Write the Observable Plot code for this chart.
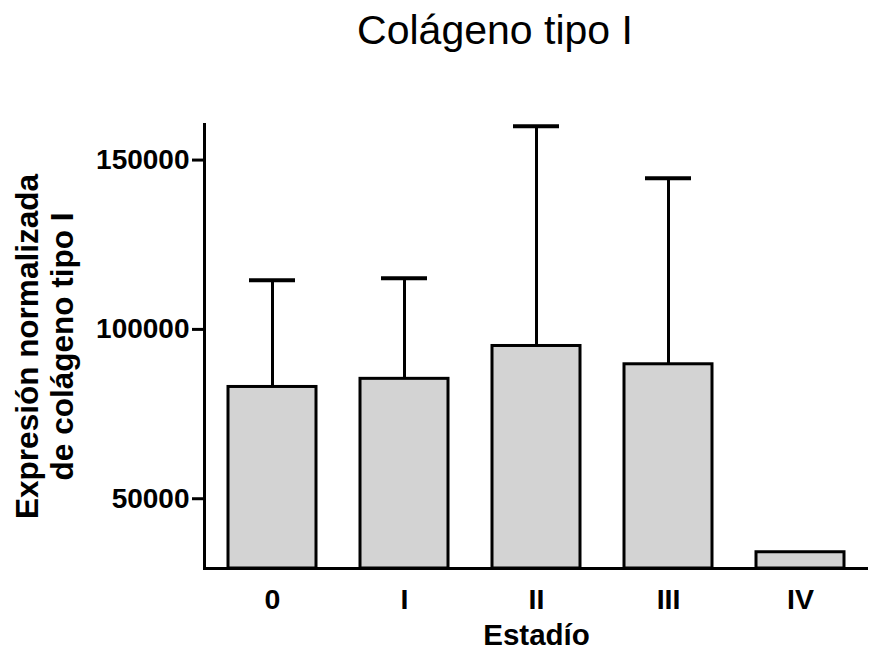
<!DOCTYPE html>
<html><head><meta charset="utf-8">
<script src="https://cdn.jsdelivr.net/npm/d3@7"></script>
<script src="https://cdn.jsdelivr.net/npm/@observablehq/plot@0.6"></script>
<style>
body{margin:0;background:#fff;overflow:hidden;font-family:"Liberation Sans",Arial,sans-serif;}
#title{position:relative;height:80px;width:869px;}
#title span{position:absolute;left:495px;top:10px;transform:translateX(-50%);font-size:41px;line-height:1;white-space:nowrap;color:#000;}
</style></head><body>
<div id="title"><span id="tt"></span></div>
<div id="chart"></div>
<script>
const chartTitle = "Colágeno tipo I";
const xLabel = "Estadío";
const yLabel = "Expresión normalizada\nde colágeno tipo I";
const stages = ["0", "I", "II", "III", "IV"];
const means = [83000, 85400, 95100, 89700, 34200];
const errors = [31500, 29700, 64900, 54900, null];
const yTicks = [50000, 100000, 150000];
const yDomain = [29400, 160500];

document.getElementById("tt").textContent = chartTitle;

const data = stages.map((s, i) => ({stage: s, mean: means[i], upper: errors[i] == null ? null : means[i] + errors[i]}));
const withErr = data.filter(d => d.upper != null);

const chart = Plot.plot({
  width: 869, height: 571,
  marginTop: 44, marginBottom: 83, marginLeft: 204, marginRight: 1,
  style: {fontFamily: "'Liberation Sans', Arial, sans-serif", fontWeight: "bold", color: "#000", background: "#fff", overflow: "visible"},
  x: {domain: stages, paddingInner: 0.335, paddingOuter: 0.175, label: null},
  y: {domain: yDomain, clamp: true, label: null},
  marks: [
    Plot.barY(data, {x: "stage", y: "mean", fill: "#d3d3d3", stroke: "#000", strokeWidth: 3}),
    Plot.ruleX(withErr, {x: "stage", y1: "mean", y2: "upper", stroke: "#000", strokeWidth: 3}),
    Plot.tickY(withErr, {x: "stage", y: "upper", stroke: "#000", strokeWidth: 4, inset: 21}),
    Plot.axisY({ticks: yTicks, tickSize: 12, tickPadding: 3, tickFormat: d => String(d), fontSize: 28, fontWeight: "bold", strokeWidth: 3, label: null}),
    Plot.axisX({tickSize: 0, tickPadding: 20, fontSize: 28.5, fontWeight: "bold", label: null}),
    Plot.ruleY([yDomain[0]], {stroke: "#000", strokeWidth: 3}),
    Plot.frame({anchor: "left", stroke: "#000", strokeWidth: 3}),
    Plot.text([xLabel], {frameAnchor: "bottom", dy: 76, fontSize: 29.5, fontWeight: "bold"}),
    Plot.text([yLabel], {frameAnchor: "left", dx: -160.5, rotate: -90, textAnchor: "middle", lineAnchor: "middle", fontSize: 31.5, fontWeight: "bold", lineHeight: 1.11})
  ]
});
document.getElementById("chart").appendChild(chart);
</script>
</body></html>
